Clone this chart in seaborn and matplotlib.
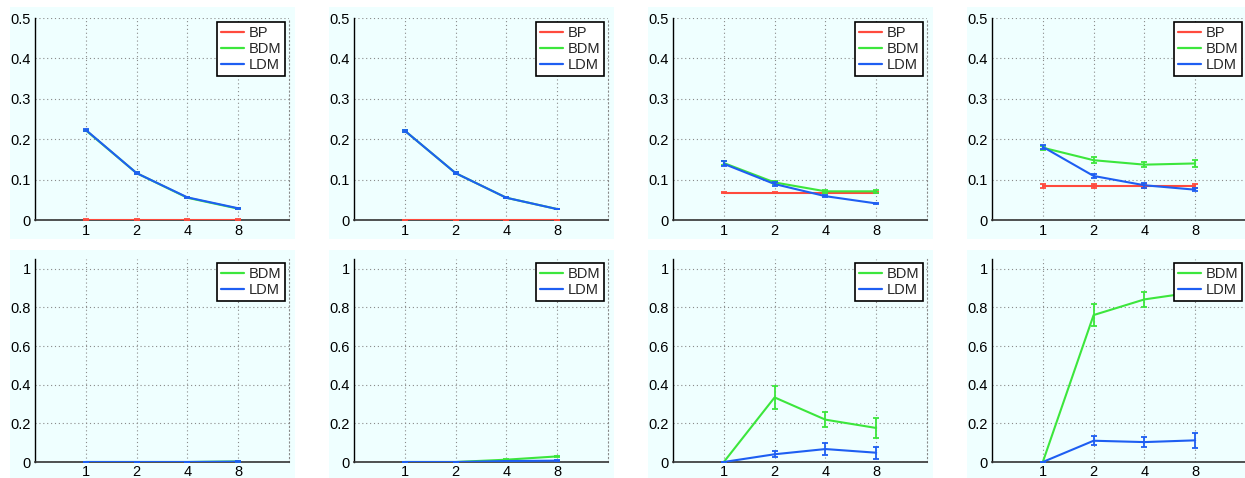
import matplotlib
matplotlib.use("Agg")
import matplotlib.pyplot as plt
from matplotlib.lines import Line2D
from matplotlib.patches import Rectangle
import seaborn as sns
import pandas as pd

sns.set_style("white")
plt.rcParams['font.family'] = ['Liberation Sans', 'DejaVu Sans']
plt.rcParams['font.size'] = 10.5

# ---------------- data ----------------
x_vals = [1, 2, 4, 8]
x_labels = ["1", "2", "4", "8"]
top_yticks = [0, 0.1, 0.2, 0.3, 0.4, 0.5]
top_ylabels = ["0", "0.1", "0.2", "0.3", "0.4", "0.5"]
bot_yticks = [0, 0.2, 0.4, 0.6, 0.8, 1.0]
bot_ylabels = ["0", "0.2", "0.4", "0.6", "0.8", "1"]

# top row (BP, BDM, LDM)
p1_bp = [0.001, 0.001, 0.001, 0.001]
p1_bp_err = [0.001, 0.001, 0.001, 0.001]
p1_bdm = [0.222, 0.116, 0.055, 0.028]
p1_bdm_err = [0.002, 0.002, 0.001, 0.001]
p1_ldm = [0.223, 0.116, 0.056, 0.029]
p1_ldm_err = [0.002, 0.002, 0.001, 0.001]

p2_bp = [0.0, 0.0, 0.0, 0.0]
p2_bp_err = [0.0, 0.0, 0.0, 0.0]
p2_bdm = [0.221, 0.116, 0.055, 0.027]
p2_bdm_err = [0.002, 0.002, 0.001, 0.001]
p2_ldm = [0.221, 0.116, 0.055, 0.027]
p2_ldm_err = [0.002, 0.002, 0.001, 0.001]

p3_bp = [0.068, 0.068, 0.068, 0.068]
p3_bp_err = [0.002, 0.002, 0.002, 0.002]
p3_bdm = [0.141, 0.093, 0.071, 0.071]
p3_bdm_err = [0.006, 0.004, 0.003, 0.003]
p3_ldm = [0.139, 0.089, 0.059, 0.041]
p3_ldm_err = [0.006, 0.004, 0.002, 0.002]

p4_bp = [0.084, 0.084, 0.084, 0.084]
p4_bp_err = [0.006, 0.006, 0.006, 0.006]
p4_bdm = [0.179, 0.148, 0.137, 0.140]
p4_bdm_err = [0.005, 0.008, 0.006, 0.009]
p4_ldm = [0.181, 0.109, 0.086, 0.075]
p4_ldm_err = [0.005, 0.005, 0.006, 0.003]

# bottom row (BDM, LDM)
p5_bdm = [0.0, 0.0, 0.0, 0.003]
p5_bdm_err = [0.0, 0.0, 0.0, 0.001]
p5_ldm = [0.0, 0.0, 0.0, 0.002]
p5_ldm_err = [0.0, 0.0, 0.0, 0.001]

p6_bdm = [0.0, 0.0, 0.012, 0.029]
p6_bdm_err = [0.0, 0.0, 0.002, 0.003]
p6_ldm = [0.0, 0.0, 0.005, 0.007]
p6_ldm_err = [0.0, 0.0, 0.002, 0.002]

p7_bdm = [0.0, 0.334, 0.219, 0.176]
p7_bdm_err = [0.0, 0.060, 0.038, 0.052]
p7_ldm = [0.0, 0.040, 0.067, 0.048]
p7_ldm_err = [0.0, 0.015, 0.033, 0.030]

p8_bdm = [0.0, 0.760, 0.841, 0.879]
p8_bdm_err = [0.0, 0.058, 0.040, 0.040]
p8_ldm = [0.0, 0.110, 0.103, 0.112]
p8_ldm_err = [0.0, 0.023, 0.025, 0.037]

colors = {"BP": "#FF4A3D", "BDM": "#3CE63C", "LDM": "#1E5EF2"}
bg = "#EFFFFF"

top_panels = [
    {"BP": (p1_bp, p1_bp_err), "BDM": (p1_bdm, p1_bdm_err), "LDM": (p1_ldm, p1_ldm_err)},
    {"BP": (p2_bp, p2_bp_err), "BDM": (p2_bdm, p2_bdm_err), "LDM": (p2_ldm, p2_ldm_err)},
    {"BP": (p3_bp, p3_bp_err), "BDM": (p3_bdm, p3_bdm_err), "LDM": (p3_ldm, p3_ldm_err)},
    {"BP": (p4_bp, p4_bp_err), "BDM": (p4_bdm, p4_bdm_err), "LDM": (p4_ldm, p4_ldm_err)},
]
bot_panels = [
    {"BDM": (p5_bdm, p5_bdm_err), "LDM": (p5_ldm, p5_ldm_err)},
    {"BDM": (p6_bdm, p6_bdm_err), "LDM": (p6_ldm, p6_ldm_err)},
    {"BDM": (p7_bdm, p7_bdm_err), "LDM": (p7_ldm, p7_ldm_err)},
    {"BDM": (p8_bdm, p8_bdm_err), "LDM": (p8_ldm, p8_ldm_err)},
]

W, H = 1245, 478
fig = plt.figure(figsize=(W / 100, H / 100), dpi=100)
fig.patch.set_facecolor("white")

ax_lefts = [35, 354, 673, 992]
ax_w = 254
rows = [(18, 220, 0.5, top_yticks, top_ylabels, top_panels),
        (259, 462, 1.05, bot_yticks, bot_ylabels, bot_panels)]
bg_rows = [(7, 239), (250, 490)]

for r, (ytop, ybot, ymax, yt, yl, panels) in enumerate(rows):
    bt, bb = bg_rows[r]
    for c, panel in enumerate(panels):
        left = ax_lefts[c]
        # background rectangle behind each subplot
        fig.patches.append(Rectangle(((left - 25) / W, 1 - bb / H), 285 / W, (bb - bt) / H,
                                     transform=fig.transFigure, facecolor=bg,
                                     edgecolor="none", zorder=-5))
        ax = fig.add_axes([left / W, 1 - ybot / H, ax_w / W, (ybot - ytop) / H])
        ax.set_zorder(1)
        ax.set_facecolor(bg)
        names = list(panel.keys())
        for name in names:
            y, e = panel[name]
            df = pd.DataFrame({"x": x_vals, "y": y})
            sns.lineplot(data=df, x="x", y="y", ax=ax, color=colors[name],
                         linewidth=1.5, errorbar=None, zorder=3)
            ax.errorbar(x_vals, y, yerr=e, fmt="none", ecolor=colors[name],
                        elinewidth=1.3, capsize=2, capthick=1.3, zorder=3)
        ax.set_xscale("log", base=2)
        ax.set_xlim(0.5, 16)
        ax.set_ylim(0, ymax)
        ax.set_xticks(x_vals)
        ax.set_xticklabels(x_labels)
        ax.xaxis.set_minor_locator(matplotlib.ticker.NullLocator())
        ax.set_yticks(yt)
        ax.set_yticklabels(yl)
        ax.set_xlabel("")
        ax.set_ylabel("")
        ax.grid(True, linestyle=(0, (1, 2.5)), color="#8a8a8a", linewidth=0.8)
        ax.tick_params(direction="in", length=3, width=0.8, labelsize=10.5,
                       colors="black", pad=3)
        if r == 1:
            ax.tick_params(axis="x", pad=2)
        ax.spines["top"].set_visible(False)
        ax.spines["right"].set_linestyle((0, (1, 2.5)))
        ax.spines["right"].set_color("#8a8a8a")
        ax.spines["right"].set_linewidth(0.8)
        ax.spines["left"].set_color("black")
        ax.spines["bottom"].set_color("#333333")
        ax.spines["left"].set_linewidth(1.0)
        ax.spines["bottom"].set_linewidth(1.2)
        handles = [Line2D([0], [0], color=colors[n], lw=1.6) for n in names]
        leg = ax.legend(handles, names, loc="upper right", fontsize=10.5,
                        frameon=True, fancybox=False, framealpha=1,
                        edgecolor="black", borderaxespad=0.3,
                        handlelength=1.6, handletextpad=0.3,
                        borderpad=0.25, labelspacing=0.15)
        leg.get_frame().set_linewidth(1.2)
        leg.get_frame().set_facecolor("white")
        leg.set_zorder(10)

fig.savefig("out.png", dpi=100, facecolor="white")
